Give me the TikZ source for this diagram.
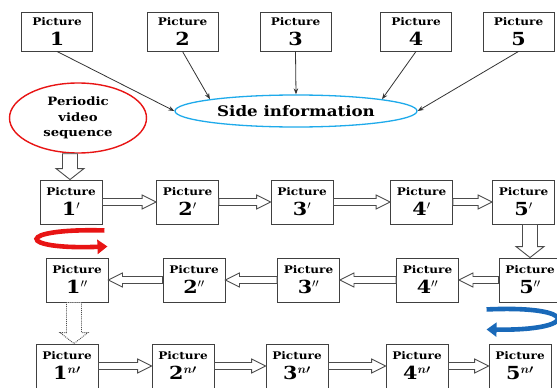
\documentclass[tikz,border=0pt]{standalone}
\usepackage{fontspec}
\setmainfont{DejaVu Serif}[FakeStretch=1.15]
\usetikzlibrary{arrows.meta,shapes.geometric,calc}
\definecolor{sideblue}{RGB}{30,170,235}
\definecolor{redc}{RGB}{232,20,20}
\definecolor{bluec}{RGB}{25,105,185}
\newcommand{\picf}{\fontsize{10.5}{19}\selectfont}
\newcommand{\numf}{\fontsize{18}{19}\selectfont}
\begin{document}
\begin{tikzpicture}[x=1pt,y=-1pt,
  picbox/.style={draw=black!75, line width=0.9pt, fill=white, minimum width=62pt, minimum height=44pt, inner sep=0pt, align=center, font=\bfseries\fontsize{10.5}{19}\selectfont},
  topbox/.style={picbox, minimum width=71pt, minimum height=39pt},
  thin arrow/.style={draw=black!80, line width=0.8pt, -{Stealth[length=6pt,width=4.5pt]}},
  blk/.style n args={3}{draw=black!70, line width=0.9pt, fill=white, to path={let \p1=(\tikztostart), \p2=(\tikztotarget),
      \n1={veclen(\x2-\x1,\y2-\y1)}, \n2={(\x2-\x1)/\n1}, \n3={(\y2-\y1)/\n1} in
      ({\x1-(#1)*(\n3)},{\y1+(#1)*(\n2)})
      -- ({\x2-(#3)*(\n2)-(#1)*(\n3)},{\y2-(#3)*(\n3)+(#1)*(\n2)})
      -- ({\x2-(#3)*(\n2)-(#2)*(\n3)},{\y2-(#3)*(\n3)+(#2)*(\n2)})
      -- (\p2)
      -- ({\x2-(#3)*(\n2)+(#2)*(\n3)},{\y2-(#3)*(\n3)-(#2)*(\n2)})
      -- ({\x2-(#3)*(\n2)+(#1)*(\n3)},{\y2-(#3)*(\n3)-(#1)*(\n2)})
      -- ({\x1+(#1)*(\n3)},{\y1-(#1)*(\n2)}) -- cycle}},
  harrow/.style={blk={3.5}{7}{14}},
  varrow/.style={blk={7.5}{14}{11}},
  curved/.style={line width=4.6pt, line cap=butt, -{Triangle[length=10pt,width=14pt]}},
]
\useasboundingbox[fill=white] (0,0) rectangle (557,388);

% top row
\node[topbox] (a1) at (57,31.5) {{\picf Picture}\\[1pt]{\numf 1}};
\node[topbox] (a2) at (182.5,31.5) {{\picf Picture}\\[1pt]{\numf 2}};
\node[topbox] (a3) at (295.5,31.5) {{\picf Picture}\\[1pt]{\numf 3}};
\node[topbox] (a4) at (416,31.5) {{\picf Picture}\\[1pt]{\numf 4}};
\node[topbox] (a5) at (518.5,31.5) {{\picf Picture}\\[1pt]{\numf 5}};

\node[draw=sideblue, line width=1.3pt, ellipse, minimum width=242pt, minimum height=32pt, inner sep=0pt, font=\bfseries\fontsize{14.5}{16}\selectfont] (side) at (296,111) {Side information};

\node[draw=redc, line width=1.4pt, ellipse, minimum width=137pt, minimum height=70pt, inner sep=0pt, align=center, font=\bfseries\fontsize{11.5}{15.5}\selectfont] (seq) at (78,118) {Periodic\\video\\sequence};

\draw[thin arrow] (a1.south) -- (side.west);
\draw[thin arrow] (a2.south) -- (side.north west);
\draw[thin arrow] (a3.south) -- (side.north);
\draw[thin arrow] (a4.south) -- (side.north east);
\draw[thin arrow] (a5.south) -- (side.east);

% row 2
\node[picbox] (b1) at (71,202) {{\picf Picture}\\[1pt]{\numf 1$'$}};
\node[picbox] (b2) at (187.5,202) {{\picf Picture}\\[1pt]{\numf 2$'$}};
\node[picbox] (b3) at (302,202) {{\picf Picture}\\[1pt]{\numf 3$'$}};
\node[picbox] (b4) at (421.5,202) {{\picf Picture}\\[1pt]{\numf 4$'$}};
\node[picbox] (b5) at (523.5,202) {{\picf Picture}\\[1pt]{\numf 5$'$}};

% row 3
\node[picbox] (c1) at (77,280) {{\picf Picture}\\[1pt]{\numf 1$''$}};
\node[picbox] (c2) at (194,280) {{\picf Picture}\\[1pt]{\numf 2$''$}};
\node[picbox] (c3) at (308.5,280) {{\picf Picture}\\[1pt]{\numf 3$''$}};
\node[picbox] (c4) at (427.5,280) {{\picf Picture}\\[1pt]{\numf 4$''$}};
\node[picbox] (c5) at (530,280) {{\picf Picture}\\[1pt]{\numf 5$''$}};

% row 4
\node[picbox] (d1) at (67,366) {{\picf Picture}\\[1pt]{\numf\boldmath 1$^{n\prime}$}};
\node[picbox] (d2) at (183,366) {{\picf Picture}\\[1pt]{\numf\boldmath 2$^{n\prime}$}};
\node[picbox] (d3) at (297,366) {{\picf Picture}\\[1pt]{\numf\boldmath 3$^{n\prime}$}};
\node[picbox] (d4) at (417,366) {{\picf Picture}\\[1pt]{\numf\boldmath 4$^{n\prime}$}};
\node[picbox] (d5) at (520,366) {{\picf Picture}\\[1pt]{\numf\boldmath 5$^{n\prime}$}};

% block arrows
\path[varrow] ([xshift=-1pt]b1.north |- seq.south) to ([xshift=-1pt]b1.north);
\path[harrow] (b1.east) to (b2.west);
\path[harrow] (b2.east) to (b3.west);
\path[harrow] (b3.east) to (b4.west);
\path[harrow] (b4.east) to (b5.west);
\path[varrow] (c5.north |- b5.south) to (c5.north);
\path[harrow] (c5.west) to (c4.east);
\path[harrow] (c4.west) to (c3.east);
\path[harrow] (c3.west) to (c2.east);
\path[harrow] (c2.west) to (c1.east);
\path[varrow, densely dotted] ([xshift=-3pt]c1.south) to ([xshift=-3pt]c1.south |- d1.north);
\path[harrow] (d1.east) to (d2.west);
\path[harrow] (d2.east) to (d3.west);
\path[harrow] (d3.east) to (d4.west);
\path[harrow] (d4.east) to (d5.west);

% curved arrows
\coordinate (r1) at ([xshift=2pt,yshift=-6pt]b1.south east);
\coordinate (r2) at ([xshift=5pt,yshift=-22pt]b1.south east);
\draw[curved, redc] (r1) .. controls (14,228) and (16,250) .. (r2);
\coordinate (u1) at ([xshift=-12pt,yshift=-7pt]c5.south west);
\coordinate (u2) at ([xshift=-12pt,yshift=-27pt]c5.south west);
\draw[curved, bluec] (u1) .. controls (580,305) and (580,331) .. (u2);
\end{tikzpicture}
\end{document}
